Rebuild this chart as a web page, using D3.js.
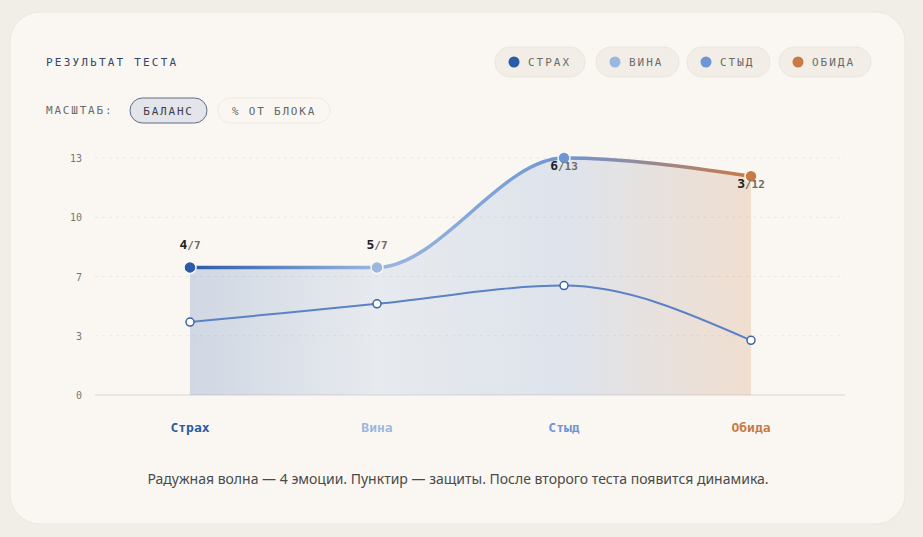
<!DOCTYPE html><html><head><meta charset="utf-8">
<script src="https://cdn.jsdelivr.net/npm/d3@7"></script>
<style>body{margin:0;background:#f1eee8;}svg{display:block}</style></head><body>
<svg id="c" width="923" height="537"></svg>
<script>
const categories=["Страх","Вина","Стыд","Обида"];
const colors=["#2a5aa8","#9ab7e0","#6f96d4","#c87a45"];
const totals=[7,7,13,12];
const scores=[4,5,6,3];
const yTicks=[0,3.25,6.5,9.75,13];
const legendLabels=["СТРАХ","ВИНА","СТЫД","ОБИДА"];
const svg=d3.select("#c");
const mono="'DejaVu Sans Mono', monospace";
svg.append("rect").attr("x",10).attr("y",12).attr("width",895).attr("height",512).attr("rx",30).attr("fill","#faf7f2").attr("stroke","#ece7de");
svg.append("text").attr("x",46).attr("y",66).text("РЕЗУЛЬТАТ ТЕСТА").attr("font-family",mono).attr("font-size",11).attr("letter-spacing",2.2).attr("fill","#34466b");
svg.append("text").attr("x",46).attr("y",114).text("МАСШТАБ:").attr("font-family",mono).attr("font-size",11).attr("letter-spacing",1.8).attr("fill","#6b6b6b");
svg.append("rect").attr("x",130).attr("y",98).attr("width",77).attr("height",25).attr("rx",12.5).attr("fill","#e3e5ea").attr("stroke","#5d6a86");
svg.append("text").attr("x",168.5).attr("y",115).attr("text-anchor","middle").text("БАЛАНС").attr("font-family",mono).attr("font-size",11).attr("letter-spacing",1.8).attr("fill","#3d3d4a");
svg.append("rect").attr("x",218).attr("y",98).attr("width",112).attr("height",25).attr("rx",12.5).attr("fill","#faf7f2").attr("stroke","#efeae2");
svg.append("text").attr("x",274).attr("y",115).attr("text-anchor","middle").text("% ОТ БЛОКА").attr("font-family",mono).attr("font-size",11).attr("letter-spacing",1.8).attr("fill","#666");
// legend
const lx=[495,596,687,779],lw=[90,83,83,92];
legendLabels.forEach((l,i)=>{
 svg.append("rect").attr("x",lx[i]).attr("y",47).attr("width",lw[i]).attr("height",30).attr("rx",15).attr("fill","#f2eee7").attr("stroke","#ebe6dd");
 svg.append("circle").attr("cx",lx[i]+19).attr("cy",62).attr("r",5.5).attr("fill",colors[i]);
 svg.append("text").attr("x",lx[i]+33).attr("y",66).text(l).attr("font-family",mono).attr("font-size",11).attr("letter-spacing",2).attr("fill","#6b6b6b");
});
const x=d3.scalePoint().domain(categories).range([190,751]);
const y=d3.scaleLinear().domain([0,13]).range([395,158]);
yTicks.forEach(t=>{
 svg.append("text").attr("x",82).attr("y",y(t)+4).attr("text-anchor","end").text(Math.round(t)).attr("font-family",mono).attr("font-size",10).attr("fill","#777");
 if(t>0) svg.append("line").attr("x1",95).attr("x2",845).attr("y1",y(t)).attr("y2",y(t)).attr("stroke","#ebe6df").attr("stroke-dasharray","3,4");
});
svg.append("line").attr("x1",95).attr("x2",845).attr("y1",395).attr("y2",395).attr("stroke","#d9d6d0").attr("stroke-width",1.2);
const defs=svg.append("defs");
function grad(id,op){const g=defs.append("linearGradient").attr("id",id).attr("gradientUnits","userSpaceOnUse").attr("x1",190).attr("x2",751).attr("y1",0).attr("y2",0);
 colors.forEach((c,i)=>g.append("stop").attr("offset",i/3).attr("stop-color",c).attr("stop-opacity",op));}
grad("gl",1);grad("ga",0.2);
const idx=d3.range(4);
const area=d3.area().x(i=>x(categories[i])).y0(395).y1(i=>y(totals[i])).curve(d3.curveMonotoneX);
const line=d3.line().x(i=>x(categories[i])).y(i=>y(totals[i])).curve(d3.curveMonotoneX);
svg.append("path").attr("d",area(idx)).attr("fill","url(#ga)");
svg.append("path").attr("d",line(idx)).attr("fill","none").attr("stroke","url(#gl)").attr("stroke-width",3.5);
const line2=d3.line().x(i=>x(categories[i])).y(i=>y(scores[i])).curve(d3.curveMonotoneX);
svg.append("path").attr("d",line2(idx)).attr("fill","none").attr("stroke","#5a82c4").attr("stroke-width",2);
idx.forEach(i=>{
 const cx=x(categories[i]);
 svg.append("circle").attr("cx",cx).attr("cy",y(scores[i])).attr("r",4).attr("fill","#fff").attr("stroke","#3e64a6").attr("stroke-width",1.5);
 svg.append("circle").attr("cx",cx).attr("cy",y(totals[i])).attr("r",6).attr("fill",colors[i]).attr("stroke","#faf7f2").attr("stroke-width",1.5);
 const top=i>=2;
 const t=svg.append("text").attr("x",cx).attr("y",top?y(totals[i])+12:y(totals[i])-18).attr("text-anchor","middle").attr("font-family","'DejaVu Sans Mono', monospace").attr("font-weight","bold");
 t.append("tspan").text(scores[i]).attr("font-size",13).attr("fill","#222");
 t.append("tspan").text("/"+totals[i]).attr("font-size",11).attr("fill","#6f6a62");
 svg.append("text").attr("x",cx).attr("y",432).attr("text-anchor","middle").text(categories[i]).attr("font-family",mono).attr("font-weight","bold").attr("font-size",13).attr("fill",colors[i]);
});
svg.append("text").attr("x",458).attr("y",484).attr("text-anchor","middle").text("Радужная волна — 4 эмоции. Пунктир — защиты. После второго теста появится динамика.").attr("font-family","'Noto Sans', sans-serif").attr("font-size",14).attr("fill","#4a4a4a");
</script></body></html>
